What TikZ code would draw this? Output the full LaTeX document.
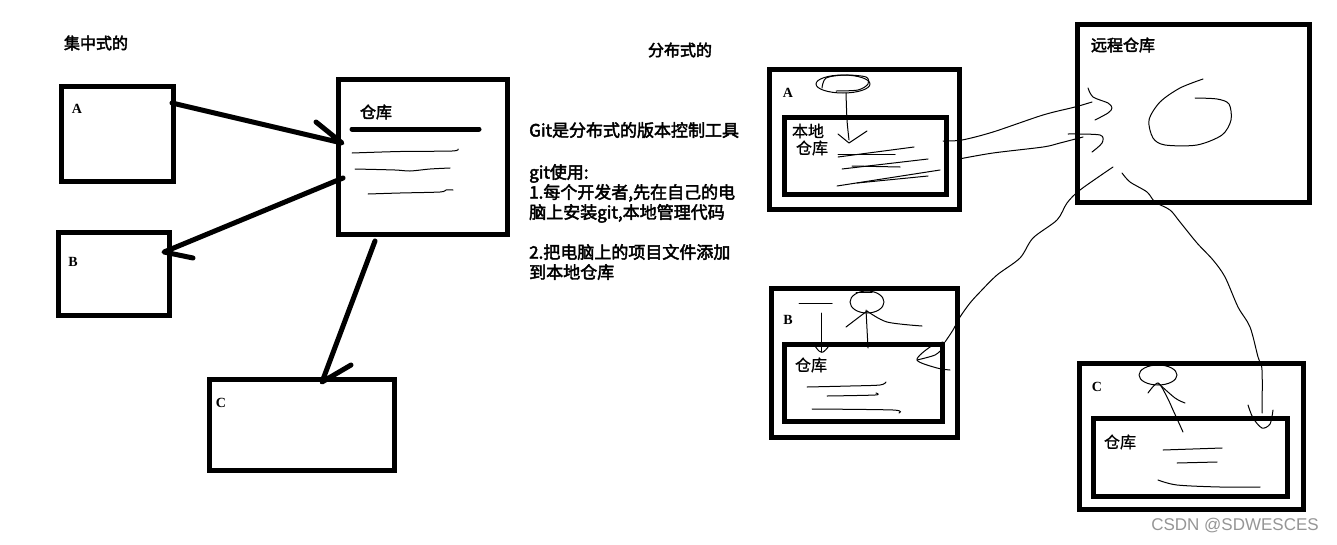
\documentclass[tikz,border=0pt]{standalone}
\usepackage{fontspec}
\newfontfamily\cjk[FakeBold=0.8]{Noto Sans CJK SC}
\newfontfamily\cjkb[FakeBold=2.6]{Noto Sans CJK SC}
\newfontfamily\lsb{Liberation Serif}
\newfontfamily\wmf{Liberation Sans}
\definecolor{wmgray}{RGB}{150,150,150}
\begin{document}
\begin{tikzpicture}[x=1pt,y=-1pt,
  box/.style={draw=black, line width=5pt, inner sep=0pt, outer sep=0pt},
  hand/.style={line width=5pt, line cap=round, line join=round},
  scr/.style={line width=1pt, line cap=round, line join=round},
  lbl/.style={inner sep=0pt, font=\lsb\bfseries\fontsize{14}{14}\selectfont},
  cnb/.style={inner sep=0pt, font=\cjkb\fontsize{16}{16}\selectfont},
  cn/.style={inner sep=0pt, font=\cjk\fontsize{16}{16}\selectfont},
  gtxt/.style={inner sep=0pt, anchor=base west, font=\cjkb\fontsize{17}{20}\selectfont}]
\useasboundingbox[fill=white] (0,0) rectangle (1337,544);

% ---------- left: centralised ----------
\node[cnb] (tcen) at (96,43) {集中式的};
\node[box, minimum width=112pt, minimum height=95pt] (A) at (117.5,134) {};
\node[box, minimum width=169pt, minimum height=155pt] (R) at (423,157) {};
\node[box, minimum width=111pt, minimum height=83pt] (B) at (114,274) {};
\node[box, minimum width=185pt, minimum height=91pt] (C) at (302,425) {};
\node[lbl] (la) at (77,109) {A};
\node[lbl] (lb) at (73,262) {B};
\node[lbl] (lc) at (221,403) {C};
\node[cnb] (rname) at (376,112) {仓库};

\coordinate (rl1) at (352,129); \coordinate (rl2) at (479,129);
\draw[hand] (rl1) -- (rl2);
\draw[scr] plot[smooth] coordinates {(352,153) (400,151.5) (452,151) (458,149)};
\draw[scr] plot[smooth] coordinates {(355,169) (395,170) (410,171) (430,169) (450,168)};
\draw[scr] plot[smooth] coordinates {(368,194) (400,193) (440,192) (446,190) (453,190)};

\coordinate (aout) at (172,103); \coordinate (rin) at (342,143); \coordinate (barbA) at (316,122);
\draw[hand] (aout) -- (rin) -- (barbA);
\coordinate (rout1) at (343,178); \coordinate (bin) at (164,252); \coordinate (barbB) at (193,258);
\draw[hand] (rout1) -- (bin) -- (barbB);
\coordinate (rout2) at (375,241); \coordinate (cin) at (322,382); \coordinate (barbC) at (351,365);
\draw[hand] (rout2) -- (cin) -- (barbC);

% ---------- middle text ----------
\node[cnb] (tdis) at (680,50) {分布式的};
\node[gtxt] (g1) at (529,136.5) {Git是分布式的版本控制工具};
\node[gtxt] (g2) at (529,178.5) {git使用:};
\node[gtxt] (g3) at (529,198.5) {1.每个开发者,先在自己的电};
\node[gtxt] (g4) at (529,218.5) {脑上安装git,本地管理代码};
\node[gtxt] (g5) at (529,258.5) {2.把电脑上的项目文件添加};
\node[gtxt] (g6) at (529,278.5) {到本地仓库};

% ---------- right: distributed ----------
\node[box, minimum width=190pt, minimum height=140pt] (RA) at (864.5,139.5) {};
\node[box, minimum width=162pt, minimum height=77pt] (RAi) at (865.5,156) {};
\node[box, minimum width=232pt, minimum height=178pt] (REM) at (1193.5,113.5) {};
\node[box, minimum width=186pt, minimum height=149pt] (RB) at (864.5,363) {};
\node[box, minimum width=158pt, minimum height=77pt] (RBi) at (863.5,383) {};
\node[box, minimum width=224pt, minimum height=146pt] (RC) at (1191.5,436.5) {};
\node[box, minimum width=194pt, minimum height=78pt] (RCi) at (1190.5,457.5) {};

\node[lbl] (ra) at (788,93) {A};
\node[lbl] (rb) at (788,320) {B};
\node[lbl] (rc) at (1097,387) {C};
\node[cn] (bd1) at (808,131) {本地};
\node[cn] (bd2) at (812,148) {仓库};
\node[cnb] (yc) at (1123,45) {远程仓库};
\node[cn] (ckb) at (811,365) {仓库};
\node[cn] (ckc) at (1120,442) {仓库};

% A machine scribbles
\draw[scr] (843,84) ellipse [x radius=27pt, y radius=9pt];
\draw[scr] plot[smooth] coordinates {(822,88) (826,78) (845,75) (866,77) (868,84) (858,90) (836,91)};
\draw[scr] plot[smooth] coordinates {(846,93) (847,120) (849,140)};
\draw[scr] (838,134) -- (849,143) -- (867,131);
\draw[scr] (838,157) -- (914,147);
\draw[scr] (838,154) -- (895,154);
\draw[scr] (842,169) -- (928,159);
\draw[scr] (852,166) -- (900,167);
\draw[scr] (837,186) -- (940,170);
\draw[scr] (857,183) -- (928,176);

% remote scribbles
\draw[scr] plot[smooth] coordinates {(1203,79) (1180,88) (1160,102) (1149,120) (1153,138) (1165,145) (1197,145) (1222,135) (1231,120) (1229,104) (1217,99) (1195,98)};

% A <-> remote
\coordinate (ra1) at (943,141); \coordinate (rem1) at (1092,102);
\draw[scr] plot[smooth] coordinates {(ra1) (962,140) (993,132) (1043,115) (1075,107) (rem1)};
\draw[scr] plot[smooth] coordinates {(1088,88) (1093,97) (1108,103) (1112,108) (1108,113) (1095,120)};
\coordinate (ra2) at (959,159); \coordinate (rem2) at (1083,137);
\draw[scr] plot[smooth] coordinates {(ra2) (993,153) (1043,147) (1060,143) (rem2)};
\draw[scr] plot[smooth] coordinates {(1068,134) (1100,135) (1102,143) (1092,152)};

% remote -> B
\coordinate (rem3) at (1113,167); \coordinate (rbin) at (945,342);
\draw[scr] plot[smooth] coordinates {(rem3) (1080,190) (1067,203) (1057,220) (1033,238) (1020,258) (997,275) (980,292) (970,303) (960,317) (953,330) (rbin)};
\draw[scr] plot[smooth] coordinates {(943,342) (930,347) (917,360) (937,368) (950,370)};
\draw[scr] plot[smooth] coordinates {(917,360) (935,355) (943,348)};

% B machine scribbles
\draw[scr] (867,302) ellipse [x radius=17pt, y radius=11pt];
\draw[scr] (856,292) -- (872,292);
\draw[scr] (866,310) -- (868,348);
\draw[scr] (846,327) -- (867,311);
\draw[scr] plot[smooth] coordinates {(867,311) (887,322) (922,326)};
\draw[scr] (799,303) -- (832,303);
\draw[scr] (821,313) -- (821,352);
\draw[scr] plot[smooth] coordinates {(815,346) (819,351) (823,352) (828,347) (828,343)};
\draw[scr] plot[smooth] coordinates {(807,387) (850,386) (880,385) (886,382)};
\draw[scr] plot[smooth] coordinates {(827,396) (875,395) (876,393)};
\draw[scr] plot[smooth] coordinates {(812,409) (893,410) (899,413)};

% remote -> C
\coordinate (rem4) at (1122,173); \coordinate (rcin) at (1262,413);
\draw[scr] plot[smooth] coordinates {(rem4) (1130,182) (1147,192) (1155,202) (1170,210) (1180,222) (1197,243) (1213,260) (1225,277) (1238,307) (1250,327) (1258,357) (1262,370) (rcin)};
\draw[scr] plot[smooth] coordinates {(1248,405) (1253,418) (1262,428) (1270,424) (1273,410)};

% C machine scribbles
\draw[scr] (1158,375) ellipse [x radius=19pt, y radius=10pt];
\draw[scr] plot[smooth] coordinates {(1148,393) (1158,383) (1167,397) (1173,410) (1183,432)};
\draw[scr] plot[smooth] coordinates {(1158,383) (1175,398) (1185,403)};
\draw[scr] (1163,450) -- (1222,448);
\draw[scr] (1177,463) -- (1217,462);
\draw[scr] plot[smooth] coordinates {(1158,480) (1177,485) (1220,487) (1260,487)};

% watermark
\node[inner sep=0pt, text=wmgray, font=\wmf\fontsize{17}{17}\selectfont] (wm) at (1235,526) {CSDN @SDWESCES};
\end{tikzpicture}
\end{document}
